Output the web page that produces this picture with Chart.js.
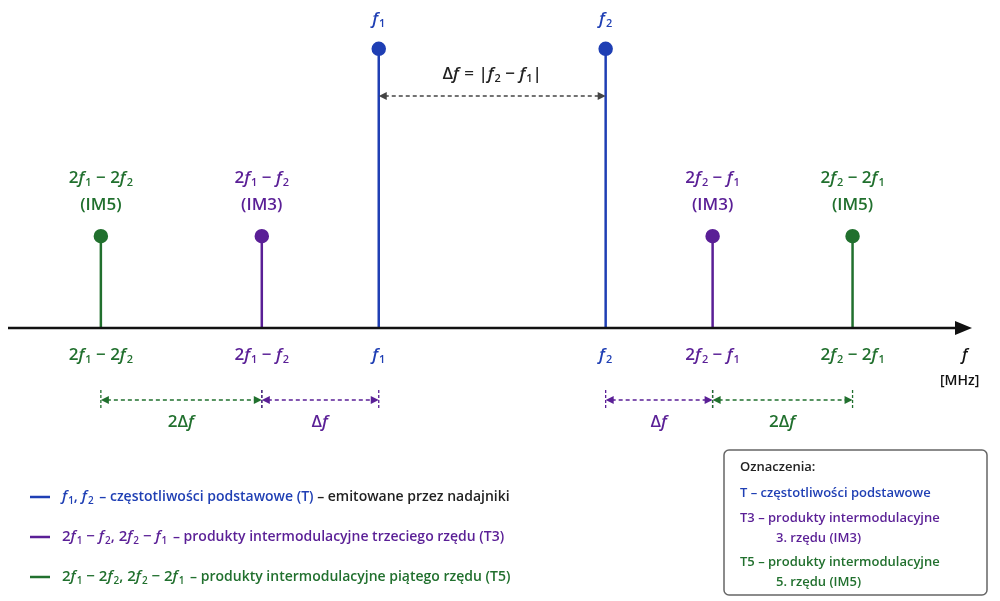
<!DOCTYPE html>
<html><head><meta charset="utf-8">
<script src="https://cdn.jsdelivr.net/npm/chart.js@4"></script>
<style>body{margin:0;background:#fff}#wrap{width:1000px;height:601px}</style>
</head><body><div id="wrap"><canvas id="c"></canvas></div>
<script>
// frequency positions (axis units) and stem heights
var positions = [100, 261, 378, 605, 712, 852];
var heights = [92, 92, 280, 280, 92, 92];
var labels = ['2f_1 − 2f_2', '2f_1 − f_2', 'f_1', 'f_2', '2f_2 − f_1', '2f_2 − 2f_1'];
var tags = ['(IM5)', '(IM3)', '', '', '(IM3)', '(IM5)'];
var kinds = ['g', 'p', 'b', 'b', 'p', 'g'];
var colors = {b: '#1f3fb4', p: '#5a1f96', g: '#21702e'};

var FONT = '"Open Sans", sans-serif';

function drawRich(ctx, s, x, y, size, color, align, weight) {
  weight = weight || '600';
  var parts = [];
  for (var i = 0; i < s.length; i++) {
    var ch = s[i];
    if (ch === '_') { parts.push({t: s[i + 1], sub: 1}); i++; }
    else if (ch === 'f') parts.push({t: 'f', it: 1});
    else parts.push({t: ch});
  }
  function font(p) {
    return (p.it ? 'italic ' : '') + weight + ' ' + (p.sub ? Math.round(size * 0.65) : size) + 'px ' + FONT;
  }
  var w = 0;
  parts.forEach(function (p) { ctx.font = font(p); p.w = ctx.measureText(p.t).width + (p.it ? 1 : 0); w += p.w; });
  var cx = align === 'center' ? x - w / 2 : x;
  ctx.fillStyle = color; ctx.textAlign = 'left'; ctx.textBaseline = 'middle';
  parts.forEach(function (p) { ctx.font = font(p); ctx.fillText(p.t, cx, p.sub ? y + size * 0.3 : y); cx += p.w; });
  return w;
}

function dashArrow(ctx, x1, x2, y, color, ticks) {
  ctx.save();
  ctx.strokeStyle = color; ctx.fillStyle = color; ctx.lineWidth = 1.3;
  ctx.setLineDash([4, 3]);
  ctx.beginPath(); ctx.moveTo(x1 + 6, y); ctx.lineTo(x2 - 6, y); ctx.stroke();
  ctx.setLineDash([]);
  [[x1, 1], [x2, -1]].forEach(function (a) {
    ctx.beginPath(); ctx.moveTo(a[0], y); ctx.lineTo(a[0] + 8 * a[1], y - 4); ctx.lineTo(a[0] + 8 * a[1], y + 4); ctx.closePath(); ctx.fill();
  });
  if (ticks) {
    ctx.setLineDash([3, 2]);
    [x1, x2].forEach(function (x) { ctx.beginPath(); ctx.moveTo(x, y - 10); ctx.lineTo(x, y + 10); ctx.stroke(); });
  }
  ctx.restore();
}

var datasets = positions.map(function (x, i) {
  return {
    type: 'line',
    data: [{x: x, y: 0}, {x: x, y: heights[i]}],
    borderColor: colors[kinds[i]], backgroundColor: colors[kinds[i]],
    borderWidth: 2.5, pointRadius: [0, 6], pointHoverRadius: [0, 6]
  };
});

var annot = {
  id: 'annot',
  afterDatasetsDraw: function (chart) {
    var ctx = chart.ctx, xs = chart.scales.x, ys = chart.scales.y;
    var y0 = ys.getPixelForValue(0);
    ctx.save();
    // axis with arrow
    ctx.strokeStyle = '#111'; ctx.fillStyle = '#111'; ctx.lineWidth = 2.5;
    ctx.beginPath(); ctx.moveTo(8, y0); ctx.lineTo(960, y0); ctx.stroke();
    ctx.beginPath(); ctx.moveTo(972, y0); ctx.lineTo(955, y0 - 7); ctx.lineTo(955, y0 + 7); ctx.closePath(); ctx.fill();
    drawRich(ctx, 'f', 962, 355, 16, '#111', 'left');
    ctx.font = '600 14px ' + FONT; ctx.fillStyle = '#111'; ctx.fillText('[MHz]', 940, 381);

    positions.forEach(function (v, i) {
      var px = xs.getPixelForValue(v), c = colors[kinds[i]];
      var top = ys.getPixelForValue(heights[i]);
      drawRich(ctx, labels[i], px, 355, 17, c, 'center');
      if (tags[i]) {
        drawRich(ctx, labels[i], px, top - 58, 17, c, 'center');
        drawRich(ctx, tags[i], px, top - 31, 17, c, 'center');
      } else {
        drawRich(ctx, labels[i], px, top - 30, 17, c, 'center');
      }
    });
    var p = positions.map(function (v) { return xs.getPixelForValue(v); });
    // Δf between carriers
    drawRich(ctx, 'Δf = |f_2 − f_1|', (p[2] + p[3]) / 2, 74, 17, '#222', 'center');
    dashArrow(ctx, p[2], p[3], 96, '#444', false);
    // spacing arrows
    var ay = 400;
    dashArrow(ctx, p[0], p[1], ay, colors.g, true);
    dashArrow(ctx, p[1], p[2], ay, colors.p, true);
    dashArrow(ctx, p[3], p[4], ay, colors.p, true);
    dashArrow(ctx, p[4], p[5], ay, colors.g, true);
    drawRich(ctx, '2Δf', (p[0] + p[1]) / 2, 422, 17, colors.g, 'center');
    drawRich(ctx, 'Δf', (p[1] + p[2]) / 2, 422, 17, colors.p, 'center');
    drawRich(ctx, 'Δf', (p[3] + p[4]) / 2, 422, 17, colors.p, 'center');
    drawRich(ctx, '2Δf', (p[4] + p[5]) / 2, 422, 17, colors.g, 'center');

    // legend
    var leg = [
      ['b', 'f_1, f_2', ' – częstotliwości podstawowe (T)', ' – emitowane przez nadajniki', 497],
      ['p', '2f_1 − f_2, 2f_2 − f_1', ' – produkty intermodulacyjne trzeciego rzędu (T3)', '', 537],
      ['g', '2f_1 − 2f_2, 2f_2 − 2f_1', ' – produkty intermodulacyjne piątego rzędu (T5)', '', 577]
    ];
    leg.forEach(function (l) {
      var c = colors[l[0]];
      ctx.strokeStyle = c; ctx.lineWidth = 2.5;
      ctx.beginPath(); ctx.moveTo(30, l[4]); ctx.lineTo(50, l[4]); ctx.stroke();
      var w1 = drawRich(ctx, l[1], 62, l[4], 15, c, 'left');
      ctx.font = '600 14px ' + FONT; ctx.fillStyle = c; ctx.textBaseline = 'middle';
      ctx.fillText(l[2], 64 + w1, l[4]);
      if (l[3]) {
        var w2 = ctx.measureText(l[2]).width;
        ctx.fillStyle = '#222'; ctx.fillText(l[3], 64 + w1 + w2, l[4]);
      }
    });

    // box
    ctx.strokeStyle = '#666'; ctx.lineWidth = 1.5;
    ctx.beginPath(); ctx.roundRect(724, 450, 263, 145, 5); ctx.stroke();
    ctx.textBaseline = 'middle'; ctx.textAlign = 'left';
    var box = [['#222', 'Oznaczenia:', 740, 467], [colors.b, 'T – częstotliwości podstawowe', 740, 493],
      [colors.p, 'T3 – produkty intermodulacyjne', 740, 518], [colors.p, '3. rzędu (IM3)', 776, 538],
      [colors.g, 'T5 – produkty intermodulacyjne', 740, 562], [colors.g, '5. rzędu (IM5)', 776, 582]];
    box.forEach(function (b) { ctx.font = '600 13px ' + FONT; ctx.fillStyle = b[0]; ctx.fillText(b[1], b[2], b[3]); });
    ctx.restore();
  }
};

new Chart(document.getElementById('c'), {
  type: 'scatter',
  data: {datasets: datasets},
  options: {
    responsive: true, maintainAspectRatio: false, animation: false,
    layout: {padding: 0},
    plugins: {legend: {display: false}, tooltip: {enabled: false}},
    scales: {
      x: {type: 'linear', min: 7.6, max: 991, display: false},
      y: {type: 'linear', min: -265.4, max: 320.4, display: false}
    }
  },
  plugins: [annot]
});
</script></body></html>
